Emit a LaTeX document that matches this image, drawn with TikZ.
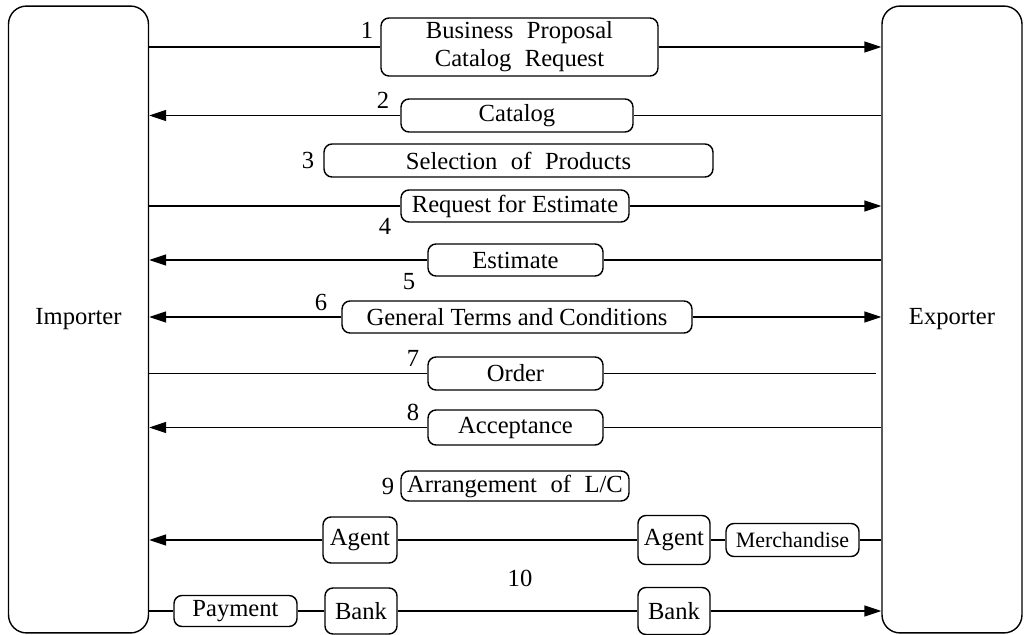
\documentclass[tikz,border=0pt]{standalone}
\usepackage{fontspec}
\setmainfont{Liberation Serif}
\usetikzlibrary{arrows.meta}
\newcommand\widesp{\spaceskip=0.55em plus 0.1em\relax}
\begin{document}
\begin{tikzpicture}[x=0.02cm,y=-0.02cm,
    font=\fontsize{14}{16}\selectfont,
    line width=0.8pt,
    party/.style={draw,rounded corners=0.36cm,minimum width=2.8cm,minimum height=12.54cm},
    msg/.style={draw,rounded corners=0.16cm,inner sep=0pt,align=center},
    wide/.style={font=\fontsize{14}{16}\selectfont\widesp},
    num/.style={inner sep=1pt},
    arr/.style={-{Triangle[length=3.4mm,width=2.2mm]}}]
    \useasboundingbox (0,0) rectangle (1029,635);
    % the two parties
    \node[party] (imp) at (78.5,319.5) {Importer};
    \node[party] (exp) at (952,319.5) {Exporter};
    % messages
    \node[msg,wide,minimum width=5.54cm,minimum height=1.16cm] (m1) at (519.5,47) {Business Proposal\\Catalog Request};
    \node[msg,minimum width=4.64cm,minimum height=0.66cm] (m2) at (517,115.5) {Catalog};
    \node[msg,wide,minimum width=7.78cm,minimum height=0.66cm] (m3) at (518.5,160.5) {Selection of Products};
    \node[msg,minimum width=4.56cm,minimum height=0.64cm] (m4) at (515,206) {Request for Estimate};
    \node[msg,minimum width=3.5cm,minimum height=0.64cm] (m5) at (515.5,260) {Estimate};
    \node[msg,minimum width=7cm,minimum height=0.64cm] (m6) at (517,317) {General Terms and Conditions};
    \node[msg,minimum width=3.5cm,minimum height=0.66cm] (m7) at (515.5,373.5) {Order};
    \node[msg,minimum width=3.5cm,minimum height=0.7cm] (m8) at (515.5,427.5) {Acceptance};
    \node[msg,wide,minimum width=4.56cm,minimum height=0.6cm] (m9) at (515,486) {Arrangement of L/C};
    \node[msg,minimum width=1.48cm,minimum height=0.92cm] (agi) at (360,540) {Agent};
    \node[msg,minimum width=1.44cm,minimum height=0.98cm] (age) at (674,540) {Agent};
    \node[msg,font=\fontsize{12.5}{14}\selectfont,minimum width=2.66cm,minimum height=0.66cm] (merch) at (792.5,540) {Merchandise};
    \node[msg,minimum width=2.46cm,minimum height=0.62cm] (pay) at (235.5,611) {Payment};
    \node[msg,minimum width=1.44cm,minimum height=0.92cm] (bki) at (361,611) {Bank};
    \node[msg,minimum width=1.44cm,minimum height=0.94cm] (bke) at (674,611) {Bank};
    % step numbers
    \node[num] (n1) at (367,30) {1};
    \node[num] (n2) at (383,100) {2};
    \node[num] (n3) at (308,160) {3};
    \node[num] (n4) at (385,226) {4};
    \node[num] (n5) at (409,282) {5};
    \node[num] (n6) at (321,302) {6};
    \node[num] (n7) at (413,358) {7};
    \node[num] (n8) at (413,412) {8};
    \node[num] (n9) at (388,486) {9};
    \node[num] (n10) at (520,578) {10};
    \coordinate (o7) at (876,373.5);
    % connectors
    \draw (imp.east |- m1.west) -- (m1.west);
    \draw[arr] (m1.east) -- (exp.west |- m1.east);
    \draw (exp.west |- m2.east) -- (m2.east);
    \draw[arr] (m2.west) -- (imp.east |- m2.west);
    \draw (imp.east |- m4.west) -- (m4.west);
    \draw[arr] (m4.east) -- (exp.west |- m4.east);
    \draw (exp.west |- m5.east) -- (m5.east);
    \draw[arr] (m5.west) -- (imp.east |- m5.west);
    \draw[arr] (m6.west) -- (imp.east |- m6.west);
    \draw[arr] (m6.east) -- (exp.west |- m6.east);
    \draw (imp.east |- m7.west) -- (m7.west);
    \draw (m7.east) -- (o7);
    \draw (exp.west |- m8.east) -- (m8.east);
    \draw[arr] (m8.west) -- (imp.east |- m8.west);
    \draw (exp.west |- merch.east) -- (merch.east);
    \draw (merch.west) -- (age.east);
    \draw (age.west) -- (agi.east);
    \draw[arr] (agi.west) -- (imp.east |- agi.west);
    \draw (imp.east |- pay.west) -- (pay.west);
    \draw (pay.east) -- (bki.west);
    \draw (bki.east) -- (bke.west);
    \draw[arr] (bke.east) -- (exp.west |- bke.east);
\end{tikzpicture}
\end{document}
